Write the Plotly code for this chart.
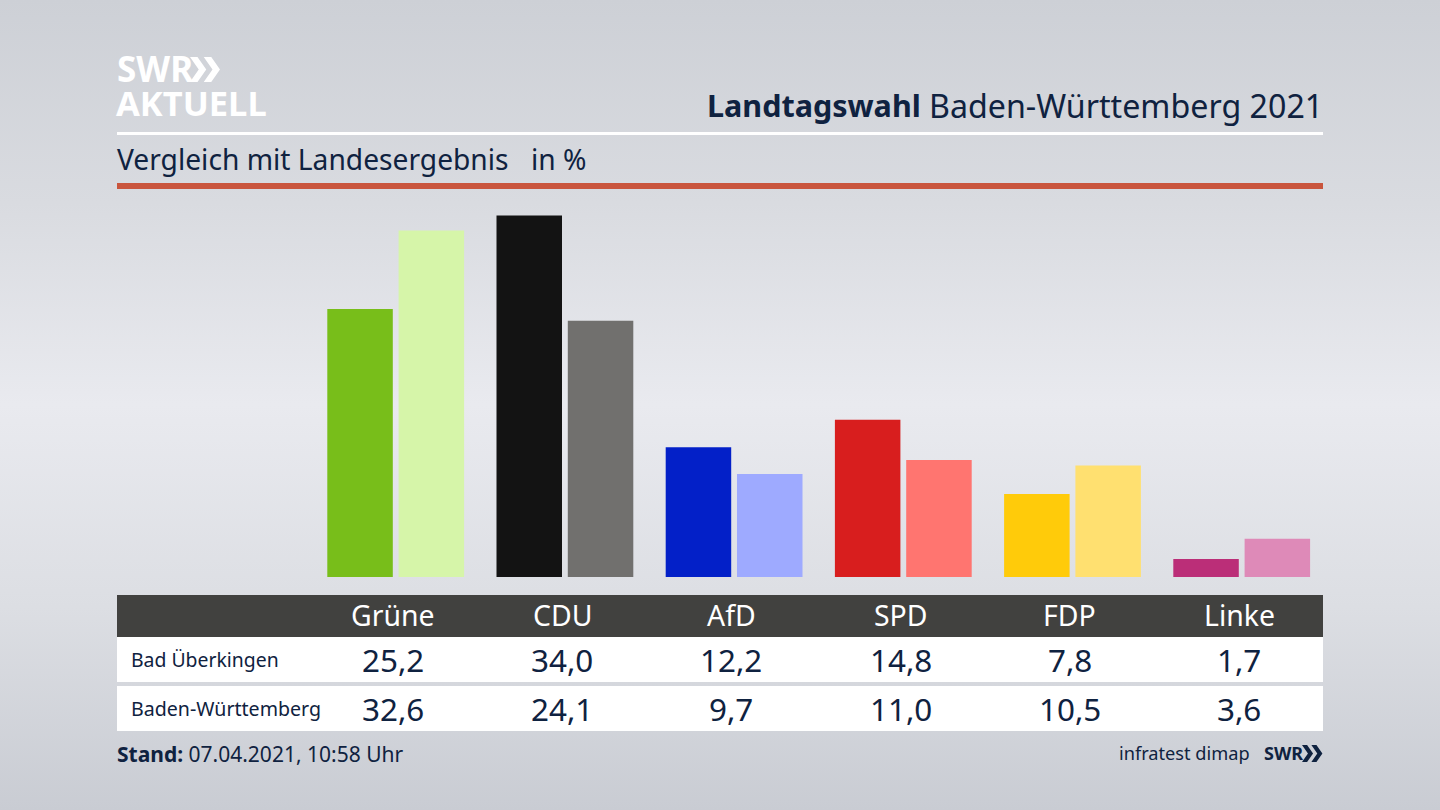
import base64
import plotly.graph_objects as go

parties = ["Grüne", "CDU", "AfD", "SPD", "FDP", "Linke"]
bad_ueberkingen = [25.2, 34.0, 12.2, 14.8, 7.8, 1.7]
baden_wuerttemberg = [32.6, 24.1, 9.7, 11.0, 10.5, 3.6]
row_names = ["Bad Überkingen", "Baden-Württemberg"]
colors_local = ["#78be1a", "#131313", "#0320c8", "#d81e1e", "#ffcb0a", "#bb2e78"]
colors_state = ["#d6f5a9", "#71706e", "#9eaaff", "#ff7570", "#ffe070", "#de8ab8"]

W, H = 1440, 810
NAVY = "#0f2240"
FONT = "Noto Sans"

# pixel layout of the plot
first_col = 393
col_step = 169.2
baseline = 577
px_per_unit = 10.63


def px(x):
    return x / W


def py(y):
    return 1 - y / H


def label(x, y, text, size, color=NAVY, anchor="center"):
    return dict(x=px(x), y=py(y), xref="paper", yref="paper", text=text, showarrow=False,
                xanchor=anchor, yanchor="middle", align=anchor, borderpad=0,
                font=dict(family=FONT, size=size, color=color))


def rect(x0, y0, x1, y1, color):
    return dict(type="rect", xref="paper", yref="paper", layer="below", line_width=0, fillcolor=color,
                x0=px(x0), x1=px(x1), y0=py(y0), y1=py(y1))


def chevrons(x, y, h, color):
    # the two arrows of the SWR logo
    out = []
    t = h * 0.3
    tip = h * 0.35
    for dx in (0, h * 0.55):
        p = [(x + dx, y), (x + dx + t, y), (x + dx + t + tip, y + h / 2),
             (x + dx + t, y + h), (x + dx, y + h), (x + dx + tip, y + h / 2)]
        path = "M" + " L".join(f"{px(a):.5f},{py(b):.5f}" for a, b in p) + " Z"
        out.append(dict(type="path", xref="paper", yref="paper", path=path, fillcolor=color, line_width=0))
    return out


# background gradient
svg = f"""<svg xmlns="http://www.w3.org/2000/svg" width="{W}" height="{H}">
<defs><linearGradient id="g" x1="0" y1="0" x2="0" y2="1">
<stop offset="0" stop-color="#cdd0d6"/><stop offset="0.25" stop-color="#d9dbe0"/>
<stop offset="0.5" stop-color="#e9eaef"/><stop offset="0.75" stop-color="#dcdee3"/>
<stop offset="1" stop-color="#c9ccd3"/></linearGradient></defs>
<rect width="{W}" height="{H}" fill="url(#g)"/></svg>"""
bg = "data:image/svg+xml;base64," + base64.b64encode(svg.encode()).decode()

fig = go.Figure()
bar_w = 65.5 / col_step
fig.add_trace(go.Bar(x=parties, y=bad_ueberkingen, name=row_names[0], marker=dict(color=colors_local, line_width=0),
                     width=bar_w, offset=-65.7 / col_step, hoverinfo="skip"))
fig.add_trace(go.Bar(x=parties, y=baden_wuerttemberg, name=row_names[1], marker=dict(color=colors_state, line_width=0),
                     width=bar_w, offset=5.6 / col_step, hoverinfo="skip"))

shapes = [
    rect(117, 132, 1323, 135, "#ffffff"),
    rect(117, 183, 1323, 189, "#c9553d"),
    rect(117, 595, 1323, 637, "#41413f"),
    rect(117, 637, 1323, 682, "#ffffff"),
    rect(117, 686, 1323, 731, "#ffffff"),
]
shapes += chevrons(190, 57, 25, "#ffffff")
shapes += chevrons(1302, 745, 17, NAVY)

notes = [
    label(116, 69, "<b>SWR</b>", 35, "#ffffff", "left"),
    label(115, 103, "<b>AKTUELL</b>", 34.5, "#ffffff", "left"),
    label(922, 105, "<b>Landtagswahl</b>", 30.5, NAVY, "right"),
    label(1324, 105, "Baden-Württemberg 2021", 32.2, NAVY, "right"),
    label(116, 159, "Vergleich mit Landesergebnis", 28.2, NAVY, "left"),
    label(530, 159, "in %", 28.2, NAVY, "left"),
    label(116, 754, "<b>Stand:</b> 07.04.2021, 10:58 Uhr", 21, NAVY, "left"),
    label(1251, 753, "infratest dimap", 18.2, NAVY, "right"),
    label(1263, 753, "<b>SWR</b>", 18, NAVY, "left"),
    label(130, 659, row_names[0], 19.4, NAVY, "left"),
    label(130, 708, row_names[1], 19.6, NAVY, "left"),
]
for i, party in enumerate(parties):
    cx = first_col + i * col_step
    notes.append(label(cx, 615, party, 28.4, "#ffffff"))
    notes.append(label(cx, 659, f"{bad_ueberkingen[i]:.1f}".replace(".", ","), 31.4))
    notes.append(label(cx, 708, f"{baden_wuerttemberg[i]:.1f}".replace(".", ","), 31.4))

fig.update_layout(
    width=W, height=H, autosize=False, margin=dict(l=0, r=0, t=0, b=0),
    barmode="overlay", showlegend=False, paper_bgcolor="#e4e5ea", plot_bgcolor="rgba(0,0,0,0)",
    images=[dict(source=bg, xref="paper", yref="paper", x=0, y=1, sizex=1, sizey=1,
                 xanchor="left", yanchor="top", sizing="stretch", layer="below")],
    shapes=shapes, annotations=notes,
    xaxis=dict(type="category", categoryorder="array", categoryarray=parties, visible=False, domain=[0, 1],
               range=[-first_col / col_step, (W - first_col) / col_step]),
    yaxis=dict(visible=False, domain=[0, 1],
               range=[-(H - baseline) / px_per_unit, baseline / px_per_unit]),
)

# plotly's page keeps the browser's default body margin
fig.write_html("out.html", config=dict(displayModeBar=False),
               post_script="document.body.style.margin='0';document.body.style.overflow='hidden';")
